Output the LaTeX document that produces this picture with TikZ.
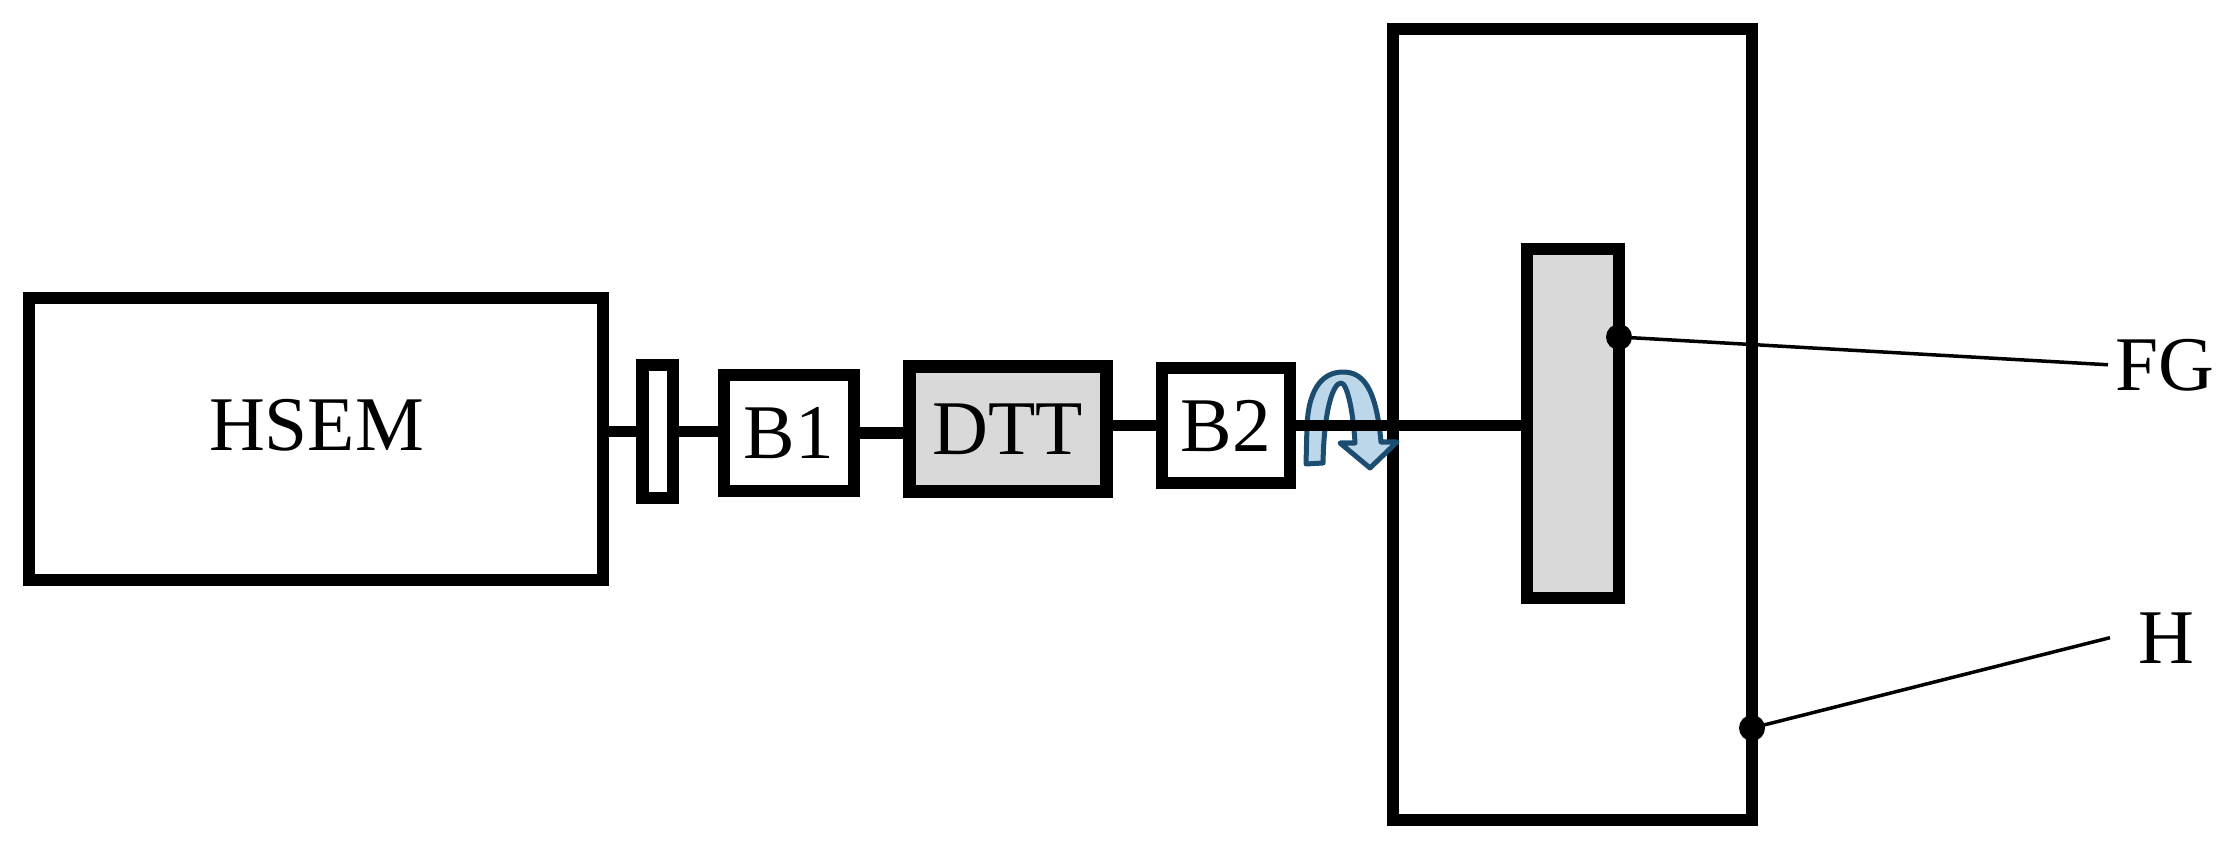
\documentclass[tikz,border=0pt]{standalone}
\usepackage{fontspec}
\setmainfont{Liberation Serif}
\definecolor{arrfill}{HTML}{BCD6EA}
\definecolor{arrline}{HTML}{1B4D70}
\definecolor{boxgray}{HTML}{D9D9D9}
\tikzset{
  blk/.style={draw=black, line width=0.12cm, inner sep=0pt, font=\fontsize{22}{26}\selectfont},
  txt/.style={inner sep=0pt, font=\fontsize{22}{26}\selectfont},
  shaft/.style={line width=0.11cm},
  leader/.style={line width=0.035cm},
  rotarrow/.style={fill=arrfill, draw=arrline, line width=0.05cm, line join=round}
}
\begin{document}
\begin{tikzpicture}[x=0.01cm, y=-0.01cm]
\useasboundingbox (0,0) rectangle (2222,855);

% blocks
\node[blk, minimum width=5.74cm, minimum height=2.82cm] (hsem) at (316,439) {};
\node[txt] (hsemt) at (316.5,425.5) {HSEM};
\node[blk, minimum width=0.30cm, minimum height=1.33cm] (cpl) at (657.5,431.5) {};
\node[blk, minimum width=1.30cm, minimum height=1.16cm] (b1) at (789,433) {B1};
\node[blk, line width=0.13cm, fill=boxgray, minimum width=1.97cm, minimum height=1.24cm] (dtt) at (1008,429) {DTT};
\node[blk, minimum width=1.28cm, minimum height=1.15cm] (b2) at (1226,425.5) {B2};
\node[blk, minimum width=3.59cm, minimum height=7.91cm] (house) at (1572.5,424.5) {};
\node[blk, fill=boxgray, minimum width=0.92cm, minimum height=3.49cm] (fg) at (1573,423.5) {};

% shafts
\draw[shaft] (hsem.east |- cpl.west) -- (cpl.west);
\draw[shaft] (cpl.east) -- (cpl.east -| b1.west);
\draw[shaft] (b1.east) -- (b1.east -| dtt.west);
\draw[shaft] (dtt.east |- b2.west) -- (b2.west);

% rotation arrow
\path[rotarrow] (1306,464) -- (1307,425)
  .. controls (1309,385) and (1325,372) .. (1343,372)
  .. controls (1362,372) and (1376,386) .. (1381,442)
  -- (1397,442) -- (1370,468) -- (1340,443) -- (1355,443)
  .. controls (1353,410) and (1347,383) .. (1341,383)
  .. controls (1333,383) and (1324,410) .. (1323,463)
  -- cycle;

\draw[shaft] (b2.east) -- (b2.east -| fg.west);

% labels
\coordinate (fgdot) at (1619,337);
\coordinate (hdot) at (1752,728);
\node[txt, anchor=base west] (fgl) at (2115,390) {FG};
\node[txt, anchor=base west] (hl) at (2138,663) {H};
\fill (fgdot) circle[radius=0.13cm];
\fill (hdot) circle[radius=0.13cm];
\draw[leader] (fgdot) -- ([xshift=-0.07cm]fgl.west);
\draw[leader] (hdot) -- ([xshift=-0.28cm]hl.west);
\end{tikzpicture}
\end{document}
